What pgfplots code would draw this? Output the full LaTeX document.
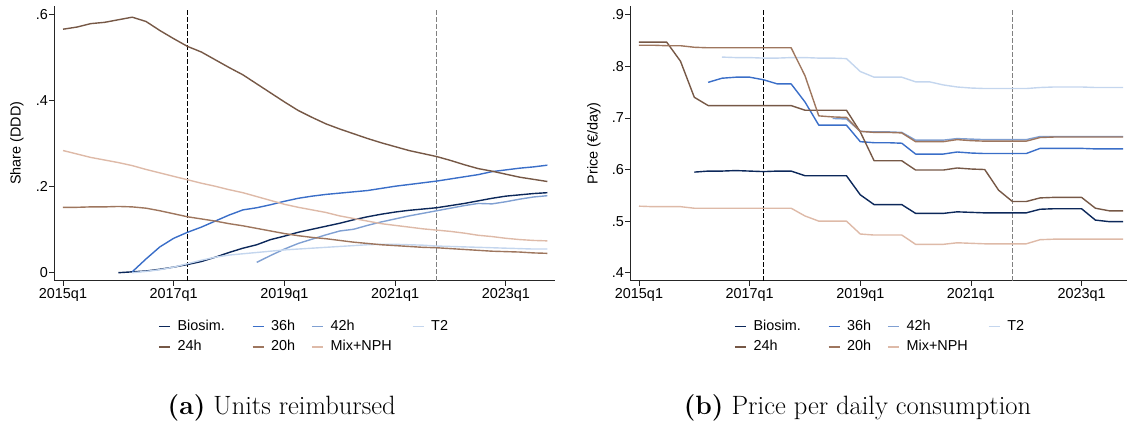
\documentclass[border=0pt]{standalone}
\usepackage{fontspec}
\newfontfamily\arial{Liberation Sans}
\usepackage{pgfplots}
\pgfplotsset{compat=1.18}
\usepackage{pgfplotstable}

\definecolor{cBio}{RGB}{12,40,90}
\definecolor{c36}{RGB}{58,110,200}
\definecolor{c42}{RGB}{128,160,210}
\definecolor{cT2}{RGB}{196,214,238}
\definecolor{c24}{RGB}{118,88,70}
\definecolor{c20}{RGB}{158,118,94}
\definecolor{cMix}{RGB}{222,186,168}

\pgfplotstableread{
t bio h36 h42 t2 h24 h20 mix
0 nan nan nan nan .566 .152 .284
1 nan nan nan nan .571 .152 .276
2 nan nan nan nan .579 .153 .268
3 nan nan nan nan .582 .153 .262
4 .000 nan nan nan .588 .154 .256
5 .002 .002 nan .000 .594 .153 .249
6 .004 .032 nan .003 .584 .150 .240
7 .008 .060 nan .007 .563 .144 .232
8 .013 .080 nan .013 .544 .137 .224
9 .019 .094 nan .021 .526 .130 .216
10 .026 .106 nan .029 .513 .125 .208
11 .036 .120 nan .036 .495 .120 .201
12 .047 .134 nan .041 .477 .114 .193
13 .057 .146 nan .044 .460 .109 .186
14 .065 .151 .024 .047 .439 .103 .177
15 .077 .158 .040 .050 .418 .097 .168
16 .085 .166 .055 .053 .397 .091 .159
17 .094 .173 .068 .055 .377 .086 .152
18 .101 .178 .078 .057 .361 .082 .146
19 .108 .182 .088 .059 .346 .079 .140
20 .115 .185 .097 .061 .334 .075 .132
21 .123 .188 .101 .063 .323 .071 .126
22 .130 .191 .110 .065 .312 .068 .120
23 .136 .196 .118 .066 .302 .065 .114
24 .141 .201 .125 .066 .293 .063 .110
25 .145 .205 .132 .065 .284 .061 .106
26 .148 .209 .138 .064 .277 .059 .102
27 .151 .213 .144 .062 .270 .058 .099
28 .156 .218 .150 .061 .261 .056 .096
29 .161 .223 .156 .060 .251 .054 .092
30 .167 .228 .161 .059 .242 .052 .087
31 .173 .235 .160 .058 .236 .050 .084
32 .178 .239 .165 .057 .229 .049 .080
33 .181 .243 .171 .056 .222 .048 .077
34 .184 .246 .176 .055 .217 .046 .075
35 .186 .250 .179 .055 .212 .045 .074
}\share

\pgfplotstableread{
t bio h36 h42 t2 h24 h20 mix
0 nan nan nan nan .847 .841 .529
1 nan nan nan nan .847 .841 .528
2 nan nan nan nan .847 .840 .528
3 nan nan nan nan .810 .840 .528
4 .595 nan nan nan .740 .837 .525
5 .597 .769 nan nan .724 .836 .525
6 .597 .777 nan .818 .724 .836 .525
7 .598 .779 nan .817 .724 .836 .525
8 .597 .779 nan .817 .724 .836 .525
9 .596 .774 nan .816 .724 .836 .525
10 .597 .766 nan .816 .724 .836 .525
11 .597 .766 nan .817 .724 .836 .525
12 .588 .731 nan .817 .715 .782 .510
13 .588 .686 nan .816 .715 .704 .500
14 .588 .686 .699 .816 .715 .702 .500
15 .588 .686 .698 .815 .715 .701 .500
16 .551 .654 .674 .790 .673 .674 .475
17 .532 .652 .673 .779 .617 .672 .473
18 .532 .652 .673 .779 .617 .672 .473
19 .532 .651 .672 .779 .617 .671 .473
20 .515 .630 .657 .770 .599 .654 .455
21 .515 .630 .657 .770 .599 .654 .455
22 .515 .630 .657 .764 .599 .654 .455
23 .518 .634 .660 .760 .603 .658 .458
24 .517 .632 .659 .758 .601 .656 .457
25 .516 .631 .658 .757 .600 .655 .456
26 .516 .631 .658 .757 .560 .655 .456
27 .516 .631 .658 .757 .538 .655 .456
28 .516 .631 .658 .757 .538 .655 .456
29 .523 .641 .664 .759 .545 .662 .464
30 .524 .641 .664 .760 .546 .663 .465
31 .524 .641 .664 .760 .546 .663 .465
32 .524 .641 .664 .760 .546 .663 .465
33 .502 .640 .664 .759 .525 .663 .465
34 .499 .640 .664 .759 .520 .663 .465
35 .499 .640 .664 .759 .520 .663 .465
}\price

\newcommand{\chartfont}{\arial\fontsize{14.4}{17}\selectfont}

\pgfplotsset{stata/.style={
  scale only axis,
  axis lines=left,
  axis line style={-, line width=0.8pt, black!85},
  xmin=-0.65,
  xtick={0,8,16,24,32},
  xticklabels={2015q1,2017q1,2019q1,2021q1,2023q1},
  tick align=outside,
  major tick length=5pt,
  minor tick num=0,
  tick style={line width=0.8pt, black!85},
  ticklabel style={font=\chartfont, inner sep=1pt},
  xticklabel style={yshift=-2pt},
  /pgf/number format/assume math mode=true,
  every axis plot/.append style={line width=1.4pt, line join=round},
  legend columns=4,
  legend cell align=left,
  legend style={draw=none, fill=none, inner sep=0pt, font=\chartfont,
    anchor=north west, row sep=5.5pt,
    nodes={inner sep=1pt, text height=10pt, text depth=3pt},
    /tikz/every odd column/.append style={column sep=6pt},
    /tikz/column 2/.append style={column sep=26pt},
    /tikz/column 4/.append style={column sep=15pt},
    /tikz/column 6/.append style={column sep=19pt}},
  legend image code/.code={\draw[#1, line width=1.4pt] (0pt,0pt) -- (11pt,0pt);},
}}

\begin{document}
\begin{tikzpicture}
\path[use as bounding box] (0pt,0pt) rectangle (1127pt,424pt);

\begin{axis}[stata,
  at={(54pt,143.3pt)}, anchor=south west,
  width=501pt, height=274.7pt,
  xmax=35.55, ymin=-0.0186, ymax=0.62,
  ytick={0,0.2,0.4,0.6}, yticklabels={0,.2,.4,.6},
  ylabel={Share (DDD)},
  every axis y label/.style={at={(axis description cs:-0.074,0.5)}, rotate=90, anchor=center, font=\chartfont},
  legend style={at={(axis description cs:0.2076,-0.1394)}},
]
\addplot[black, line width=0.9pt, dash pattern=on 4.5pt off 2.5pt, forget plot] coordinates {(9,-0.0186) (9,0.615)};
\addplot[black!50, line width=0.9pt, dash pattern=on 4.5pt off 2.5pt, forget plot] coordinates {(27,-0.0186) (27,0.615)};
\addplot[cBio] table[x=t, y=bio] {\share}; \addlegendentry{Biosim.}
\addplot[c36] table[x=t, y=h36] {\share}; \addlegendentry{36h}
\addplot[c42] table[x=t, y=h42] {\share}; \addlegendentry{42h}
\addplot[cT2] table[x=t, y=t2] {\share}; \addlegendentry{T2}
\addplot[c24] table[x=t, y=h24] {\share}; \addlegendentry{24h}
\addplot[c20] table[x=t, y=h20] {\share}; \addlegendentry{20h}
\addplot[cMix] table[x=t, y=mix] {\share}; \addlegendentry{Mix+NPH}
\end{axis}

\begin{axis}[stata,
  at={(630pt,143.3pt)}, anchor=south west,
  width=496.5pt, height=274.7pt,
  xmax=35.25, ymin=0.3845, ymax=0.917,
  ytick={0.4,0.5,0.6,0.7,0.8,0.9}, yticklabels={.4,.5,.6,.7,.8,.9},
  ylabel={Price (€/day)},
  every axis y label/.style={at={(axis description cs:-0.0725,0.5)}, rotate=90, anchor=center, font=\chartfont},
  legend style={at={(axis description cs:0.2095,-0.1394)}},
]
\addplot[black, line width=0.9pt, dash pattern=on 4.5pt off 2.5pt, forget plot] coordinates {(9,0.3845) (9,0.913)};
\addplot[black!50, line width=0.9pt, dash pattern=on 4.5pt off 2.5pt, forget plot] coordinates {(27,0.3845) (27,0.913)};
\addplot[cBio] table[x=t, y=bio] {\price}; \addlegendentry{Biosim.}
\addplot[c36] table[x=t, y=h36] {\price}; \addlegendentry{36h}
\addplot[c42] table[x=t, y=h42] {\price}; \addlegendentry{42h}
\addplot[cT2] table[x=t, y=t2] {\price}; \addlegendentry{T2}
\addplot[c24] table[x=t, y=h24] {\price}; \addlegendentry{24h}
\addplot[c20] table[x=t, y=h20] {\price}; \addlegendentry{20h}
\addplot[cMix] table[x=t, y=mix] {\price}; \addlegendentry{Mix+NPH}
\end{axis}

\node[font=\fontsize{26.5}{30}\selectfont, inner sep=0pt] at (281.7pt,16pt) {\textbf{(a)} Units reimbursed};
\node[font=\fontsize{26.5}{30}\selectfont, inner sep=0pt] at (857.5pt,16pt) {\textbf{(b)} Price per daily consumption};
\end{tikzpicture}
\end{document}
